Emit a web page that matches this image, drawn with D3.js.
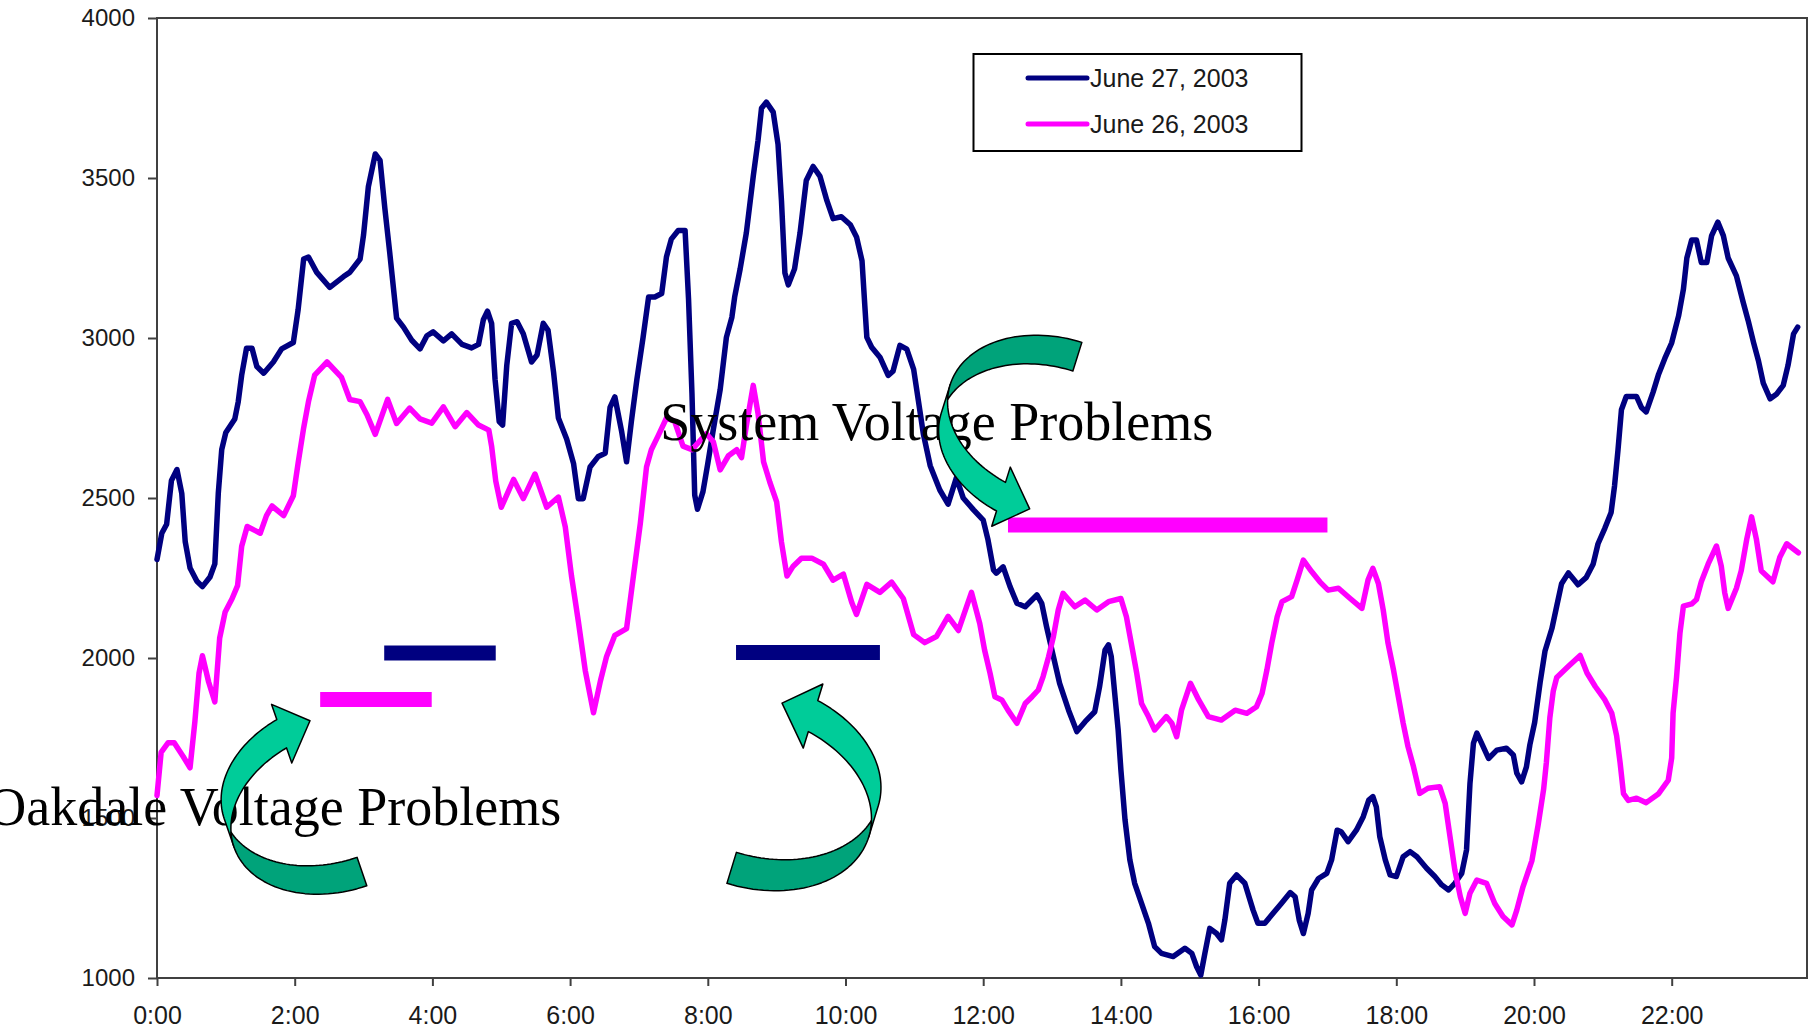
<!DOCTYPE html>
<html><head><meta charset="utf-8">
<script src="https://cdn.jsdelivr.net/npm/d3@7"></script>
<style>body{margin:0;background:#fff;overflow:hidden}svg{display:block}</style>
</head><body>
<svg id="chart" width="1814" height="1031"></svg>
<script>
// ---------- data (hours of day, MW) ----------
const seriesNames = ["June 27, 2003", "June 26, 2003"];
const seriesColors = ["#000080", "#FF00FF"];

const hours27 = [0.00,0.07,0.14,0.21,0.29,0.36,0.41,0.48,0.58,0.66,0.77,0.84,0.89,0.94,1.00,1.13,1.18,1.23,1.30,1.38,1.45,1.55,1.69,1.81,1.98,2.05,2.13,2.20,2.32,2.51,2.71,2.80,2.95,3.00,3.07,3.17,3.24,3.31,3.38,3.48,3.58,3.70,3.82,3.92,
4.01,4.16,4.28,4.43,4.57,4.67,4.74,4.80,4.86,4.91,4.97,5.02,5.08,5.15,5.23,5.32,5.44,5.52,5.61,5.68,5.76,5.83,5.95,6.05,6.12,6.19,6.29,6.41,6.51,6.58,6.65,6.75,6.82,6.89,6.97,7.06,7.14,7.23,7.33,7.40,7.47,7.57,7.67,7.72,7.77,7.81,7.85,7.93,8.00,
8.08,8.18,8.27,8.35,8.39,8.47,8.56,8.66,8.73,8.78,8.85,8.95,9.02,9.07,9.12,9.17,9.26,9.34,9.43,9.53,9.63,9.73,9.82,9.94,10.07,10.16,10.24,10.28,10.31,10.38,10.50,10.62,10.69,10.79,10.89,10.99,11.06,11.13,11.23,11.37,11.49,11.61,11.71,11.86,
12.00,12.07,12.15,12.19,12.29,12.39,12.49,12.61,12.78,12.85,12.92,13.02,13.11,13.24,13.36,13.48,13.62,13.69,13.77,13.82,13.86,13.91,13.96,14.00,14.06,14.13,14.20,14.30,14.40,14.49,14.59,14.76,14.93,15.03,15.10,15.16,15.22,15.29,15.39,15.46,15.51,15.58,15.68,15.80,
15.92,15.99,16.09,16.21,16.33,16.46,16.53,16.59,16.65,16.72,16.77,16.87,16.99,17.06,17.14,17.20,17.30,17.42,17.52,17.60,17.66,17.71,17.76,17.84,17.91,18.00,18.10,18.20,18.30,18.44,18.56,18.66,18.76,18.85,18.95,19.02,19.07,19.12,19.17,19.24,19.34,19.46,19.60,19.70,19.75,19.82,19.89,
19.94,20.01,20.09,20.16,20.26,20.33,20.40,20.50,20.64,20.76,20.86,20.93,21.03,21.12,21.17,21.22,21.27,21.34,21.49,21.56,21.63,21.73,21.81,21.90,22.00,22.10,22.17,22.22,22.29,22.36,22.43,22.51,22.58,22.67,22.75,22.82,22.94,23.04,23.11,23.19,23.26,23.33,23.43,23.52,23.62,23.69,23.77,23.83];
const values27 = [2308,2390,2418,2555,2589,2514,2363,2281,2240,2223,2253,2294,2514,2651,2705,2747,2801,2884,2968,2968,2911,2890,2925,2966,2986,3089,3247,3253,3205,3158,3192,3205,3247,3322,3473,3575,3555,3404,3267,3062,3034,2993,2966,3007,
3019,2991,3013,2980,2969,2980,3057,3084,3046,2871,2739,2728,2914,3046,3051,3013,2925,2947,3046,3024,2893,2750,2684,2608,2498,2498,2597,2630,2640,2783,2816,2706,2613,2739,2871,3002,3128,3128,3139,3254,3309,3336,3336,3123,2827,2509,2465,2520,2608,
2714,2839,3002,3065,3128,3216,3329,3505,3618,3718,3737,3706,3605,3429,3203,3166,3216,3329,3492,3536,3505,3429,3373,3379,3354,3316,3241,3103,3002,2971,2940,2883,2896,2977,2965,2902,2802,2701,2601,2525,2481,2563,2500,2463,
2431,2369,2275,2265,2285,2223,2171,2160,2197,2171,2098,2004,1921,1837,1770,1801,1832,1910,2025,2041,2004,1890,1775,1650,1494,1369,1296,1233,1171,1098,1077,1067,1093,1077,1035,1009,1077,1155,1139,1119,1181,1296,1322,1296,
1212,1171,1171,1202,1233,1267,1254,1181,1139,1202,1275,1311,1327,1369,1462,1457,1426,1462,1504,1556,1567,1535,1442,1369,1322,1317,1379,1395,1379,1343,1317,1291,1275,1296,1327,1400,1608,1733,1765,1733,1686,1712,1718,1697,1640,1613,1660,
1729,1799,1925,2022,2092,2162,2232,2266,2229,2252,2294,2357,2406,2455,2538,2650,2776,2817,2817,2783,2769,2831,2887,2936,2985,3069,3152,3250,3306,3306,3236,3236,3320,3362,3320,3250,3194,3110,3055,2985,2929,2859,2810,2824,2852,2915,3013,3034];

const hours26 = [0.00,0.06,0.16,0.25,0.38,0.48,0.55,0.61,0.66,0.75,0.84,0.91,0.99,1.09,1.17,1.23,1.31,1.50,1.59,1.67,1.84,1.98,2.05,2.13,2.20,2.29,2.47,2.68,2.80,2.95,3.05,3.17,3.35,3.48,3.67,3.82,
3.99,4.16,4.33,4.50,4.67,4.82,4.86,4.92,5.00,5.18,5.32,5.49,5.66,5.83,5.93,6.02,6.12,6.22,6.34,6.44,6.53,6.65,6.82,6.92,7.02,7.11,7.18,7.28,7.40,7.52,7.64,7.77,
7.98,8.08,8.18,8.30,8.42,8.49,8.56,8.66,8.73,8.81,8.90,9.00,9.07,9.15,9.24,9.36,9.51,9.68,9.82,9.97,10.09,10.16,10.31,10.50,10.67,10.84,10.99,11.15,11.32,11.49,11.64,11.83,
11.95,12.02,12.10,12.17,12.27,12.36,12.49,12.61,12.71,12.80,12.87,12.95,13.02,13.09,13.16,13.33,13.48,13.65,13.82,14.00,14.08,14.16,14.23,14.30,14.40,14.49,14.66,14.74,14.81,14.88,15.01,15.13,15.27,15.46,15.66,15.83,15.97,
16.05,16.12,16.19,16.27,16.34,16.48,16.56,16.65,16.77,16.89,17.01,17.16,17.33,17.50,17.59,17.66,17.74,17.81,17.88,17.96,18.03,18.10,18.17,18.25,18.34,18.46,18.63,18.71,18.78,18.85,18.93,19.00,19.07,19.17,19.31,19.43,19.55,19.68,19.75,19.84,
19.97,20.06,20.14,20.18,20.23,20.28,20.33,20.50,20.67,20.77,20.89,21.03,21.13,21.20,21.25,21.30,21.37,21.49,21.63,21.81,21.95,22.00,22.02,22.07,22.12,22.17,22.29,22.36,22.43,22.53,22.65,22.72,22.77,22.82,22.94,23.01,23.09,23.16,23.23,23.30,23.47,23.57,23.67,23.84];
const values26 = [1570,1705,1735,1735,1692,1657,1801,1952,2007,1925,1863,2062,2144,2185,2226,2349,2411,2390,2445,2475,2445,2507,2610,2719,2801,2884,2925,2877,2808,2801,2760,2699,2808,2733,2781,2747,
2734,2785,2723,2767,2728,2712,2662,2553,2471,2558,2498,2575,2471,2503,2410,2257,2114,1961,1829,1928,2005,2071,2092,2257,2421,2597,2651,2695,2750,2739,2662,2651,
2701,2676,2588,2632,2651,2626,2726,2852,2764,2613,2550,2488,2362,2256,2287,2312,2312,2293,2243,2262,2174,2136,2230,2205,2237,2186,2073,2048,2067,2130,2086,2205,
2108,2025,1952,1879,1869,1837,1796,1858,1879,1900,1942,2004,2067,2150,2202,2160,2181,2150,2176,2186,2129,2035,1952,1858,1817,1775,1817,1796,1754,1837,1921,1869,1817,1806,1837,1827,1848,
1889,1962,2046,2129,2176,2192,2244,2306,2270,2238,2212,2218,2186,2155,2244,2280,2233,2150,2046,1962,1879,1796,1723,1660,1577,1593,1598,1546,1442,1338,1254,1202,1265,1306,1296,1233,1192,1166,1212,1285,
1367,1478,1590,1674,1813,1897,1939,1974,2008,1953,1911,1869,1827,1757,1674,1576,1555,1562,1548,1576,1618,1688,1827,1939,2078,2162,2169,2183,2238,2294,2350,2287,2204,2155,2218,2273,2371,2441,2371,2273,2238,2315,2357,2329];

const xTickHours = [0,2,4,6,8,10,12,14,16,18,20,22];
const yTickValues = [1000,1500,2000,2500,3000,3500,4000];

// problem periods marked on the chart (series index, start hour, end hour, MW level)
const problemSeries = [1, 0, 1, 0];
const problemStart  = [12.36, 3.30, 2.37, 8.41];
const problemEnd    = [17.00, 4.92, 3.99, 10.50];
const problemLevel  = [2416, 2016, 1870, 2017];

const noteTexts = ["System Voltage Problems", "Oakdale Voltage Problems"];
const noteHour  = [7.31, 5.87];
const noteValue = [2681, 1478];
const noteAnchor = ["start", "end"];

// curved arrows: tip position (hour, MW), rotation, flips, relative size
const arrowHour  = [2.222, 9.078, 12.675];
const arrowValue = [1804, 1859, 2466];
const arrowAngle = [-19, 17.0, 17.4];
const arrowFlipX = [1, -1, 1];
const arrowFlipY = [-1, -1, 1];
const arrowScale = [1, 1.08, 1];

// ---------- drawing ----------
const svg = d3.select("#chart");
const x = d3.scaleLinear().domain([0, 24]).range([157, 1809.4]);
const y = d3.scaleLinear().domain([1000, 4000]).range([978, 18]);

const axisColor = "#404040";
const labelFont = "'Liberation Sans', Arial, sans-serif";

// y axis
const gy = svg.append("g").attr("transform", `translate(${x(0)},0)`)
  .call(d3.axisLeft(y).tickValues(yTickValues).tickSize(9).tickSizeOuter(0).tickPadding(13).tickFormat(d3.format("d")));
gy.select(".domain").remove();
gy.selectAll("line").attr("stroke", axisColor).attr("stroke-width", 2);
gy.selectAll("text").attr("font-family", labelFont).attr("font-size", 24).attr("fill", "#1a1a1a");

// x axis
const gx = svg.append("g").attr("transform", `translate(0,${y(1000)})`)
  .call(d3.axisBottom(x).tickValues(xTickHours).tickSize(8).tickSizeOuter(0).tickFormat(d => d + ":00"));
gx.select(".domain").remove();
gx.selectAll("line").attr("stroke", axisColor).attr("stroke-width", 2);
gx.selectAll("text").attr("font-family", labelFont).attr("font-size", 25).attr("fill", "#1a1a1a")
  .attr("y", 37).attr("dy", "0.35em");

// plot frame
svg.append("rect").attr("x", x(0)).attr("y", y(4000)).attr("width", 1807 - x(0)).attr("height", y(1000) - y(4000))
  .attr("fill", "none").attr("stroke", axisColor).attr("stroke-width", 2);

// series lines
const line = d3.line().x(d => x(d[0])).y(d => y(d[1]));
const series = [d3.zip(hours27, values27), d3.zip(hours26, values26)];
svg.append("g").selectAll("path").data(series).join("path")
  .attr("d", line).attr("fill", "none")
  .attr("stroke", (d, i) => seriesColors[i]).attr("stroke-width", 5.5)
  .attr("stroke-linejoin", "round").attr("stroke-linecap", "round");

// problem bars
svg.append("g").selectAll("line").data(problemStart).join("line")
  .attr("x1", (d, i) => x(problemStart[i])).attr("x2", (d, i) => x(problemEnd[i]))
  .attr("y1", (d, i) => y(problemLevel[i])).attr("y2", (d, i) => y(problemLevel[i]))
  .attr("stroke", (d, i) => seriesColors[problemSeries[i]]).attr("stroke-width", 15);

// legend
const lg = svg.append("g");
lg.append("rect").attr("x", 973.5).attr("y", 54).attr("width", 328).attr("height", 97)
  .attr("fill", "#fff").attr("stroke", "#000").attr("stroke-width", 2);
seriesNames.forEach((name, i) => {
  const ly = 78 + i * 46;
  lg.append("line").attr("x1", 1028).attr("x2", 1087).attr("y1", ly).attr("y2", ly)
    .attr("stroke", seriesColors[i]).attr("stroke-width", 5).attr("stroke-linecap", "round");
  lg.append("text").attr("x", 1090).attr("y", ly).attr("dy", "0.35em")
    .attr("font-family", labelFont).attr("font-size", 25).attr("fill", "#1a1a1a").text(name);
});

// annotation texts
svg.append("g").selectAll("text").data(noteTexts).join("text")
  .attr("x", (d, i) => x(noteHour[i])).attr("y", (d, i) => y(noteValue[i]))
  .attr("text-anchor", (d, i) => noteAnchor[i])
  .attr("font-family", "'Liberation Serif', 'Times New Roman', serif").attr("font-size", 54)
  .attr("fill", "#000").text(d => d);

// curved arrows (PowerPoint-style curved right arrow)
function curvedArrowPaths(w, h, th, aw, ah) {
  const hR = h / 2 - (th + aw) / 4;
  const x1 = w - ah;
  const t1 = Math.acos(-ah / w);
  const E = (cy, t) => [w + w * Math.cos(t), cy + hR * Math.sin(t)];
  const y5 = hR + hR * Math.sin(t1), y7 = y5 + th, dh = (aw - th) / 2, y6 = h - aw / 2;
  const N = 40;
  const front = [];
  for (let k = 0; k <= N; k++) front.push(E(hR, Math.PI - (Math.PI - t1) * k / N));
  front.push([x1, y5 - dh], [w, y6], [x1, y7 + dh], [x1, y7]);
  for (let k = 0; k <= N; k++) front.push(E(hR + th, t1 + (Math.PI - t1) * k / N));
  const a = Math.asin(th / (2 * hR));
  const back = [];
  for (let k = 0; k <= N; k++) back.push(E(hR + th, 1.5 * Math.PI - (0.5 * Math.PI - a) * k / N));
  for (let k = 0; k <= N; k++) back.push(E(hR, Math.PI - a + (0.5 * Math.PI + a) * k / N));
  const toD = pts => "M" + pts.map(p => p[0].toFixed(2) + "," + p[1].toFixed(2)).join("L") + "Z";
  return { front: toD(front), back: toD(back), tipY: y6 };
}
const AW = 113, AH = 205.5, ATH = 30, AAW = 62, AAH = 31;
const shape = curvedArrowPaths(AW, AH, ATH, AAW, AAH);
const ag = svg.append("g").selectAll("g").data(arrowHour).join("g")
  .attr("transform", (d, i) => `translate(${x(arrowHour[i])},${y(arrowValue[i])}) rotate(${arrowAngle[i]}) scale(${arrowFlipX[i] * arrowScale[i]},${arrowFlipY[i] * arrowScale[i]}) translate(${-AW},${-shape.tipY})`);
ag.append("path").attr("d", shape.front).attr("fill", "#00CC99").attr("stroke", "#000").attr("stroke-width", 1.5).attr("stroke-linejoin", "round").attr("vector-effect", "non-scaling-stroke");
ag.append("path").attr("d", shape.back).attr("fill", "#00A37A").attr("stroke", "#000").attr("stroke-width", 1.5).attr("stroke-linejoin", "round").attr("vector-effect", "non-scaling-stroke");
</script>
</body></html>
